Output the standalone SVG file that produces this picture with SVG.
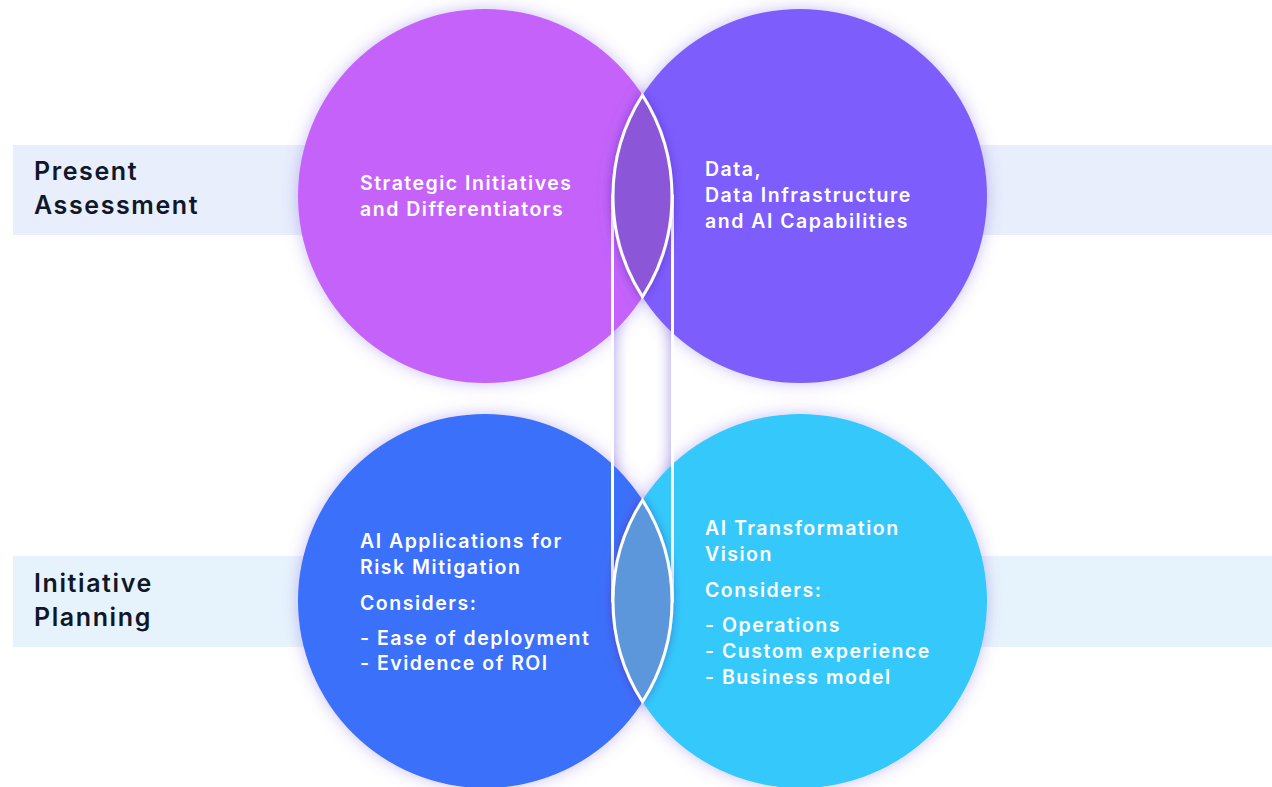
<svg xmlns="http://www.w3.org/2000/svg" width="1272" height="787" viewBox="0 0 1272 787">
  <style>
    .band-label { font-family: Inter, "Open Sans", "Liberation Sans", sans-serif; font-size: 25px; font-weight: 600; letter-spacing: 1.6px; fill: #0f1729; }
    .node-text { font-family: Inter, "Open Sans", "Liberation Sans", sans-serif; font-size: 19.5px; font-weight: 600; letter-spacing: 1.5px; fill: #ffffff; }
    .lens { stroke: #ffffff; stroke-width: 3; }
  </style>
  <defs>
    <filter id="glow" x="-20%" y="-20%" width="140%" height="140%">
      <feDropShadow dx="0" dy="0" stdDeviation="8" flood-color="#7a5fe0" flood-opacity="0.4"/>
    </filter>
    <filter id="lensShadow" x="-60%" y="-20%" width="220%" height="140%">
      <feDropShadow dx="0" dy="0" stdDeviation="5" flood-color="#3a1f9a" flood-opacity="0.35"/>
    </filter>
    <linearGradient id="linkShade" x1="0" y1="0" x2="1" y2="0">
      <stop offset="0" stop-color="#cfc6f2" stop-opacity="0.9"/>
      <stop offset="0.3" stop-color="#ffffff" stop-opacity="0"/>
      <stop offset="0.7" stop-color="#ffffff" stop-opacity="0"/>
      <stop offset="1" stop-color="#cfc6f2" stop-opacity="0.9"/>
    </linearGradient>
  </defs>

  <rect width="1272" height="787" fill="#ffffff"/>

  <!-- horizontal bands -->
  <g id="band-present">
    <rect x="13" y="145" width="1259" height="90" fill="#e8eefc"/>
    <text class="band-label" x="34" y="180">Present</text>
    <text class="band-label" x="34" y="214">Assessment</text>
  </g>
  <g id="band-planning">
    <rect x="13" y="556" width="1259" height="91" fill="#e7f3fc"/>
    <text class="band-label" x="34" y="592">Initiative</text>
    <text class="band-label" x="34" y="626">Planning</text>
  </g>

  <!-- soft inner shading of the link channel, visible between the circles -->
  <rect x="614" y="196" width="57" height="405" fill="url(#linkShade)"/>

  <!-- circles -->
  <g id="strategic-initiatives">
    <circle cx="485" cy="196" r="187" fill="#c462fa" filter="url(#glow)"/>
  </g>
  <g id="data-infrastructure">
    <circle cx="800" cy="196" r="187" fill="#7d5dfb" filter="url(#glow)"/>
  </g>
  <g id="ai-applications">
    <circle cx="485" cy="601" r="187" fill="#3a70fa" filter="url(#glow)"/>
  </g>
  <g id="ai-transformation">
    <circle cx="800" cy="601" r="187" fill="#36c9fb" filter="url(#glow)"/>
  </g>

  <!-- connectors: vertical link between the two overlaps -->
  <g id="connectors">
    <rect x="612.5" y="196" width="60" height="405" fill="none" stroke="#ffffff" stroke-width="3"/>
    <path class="lens" d="M642.5,95.2 A187,187 0 0,0 642.5,296.8 A187,187 0 0,0 642.5,95.2 Z" fill="#8b57d8" filter="url(#lensShadow)"/>
    <path class="lens" d="M642.5,500.2 A187,187 0 0,0 642.5,701.8 A187,187 0 0,0 642.5,500.2 Z" fill="#5b96db" filter="url(#lensShadow)"/>
  </g>

  <!-- circle labels -->
  <g id="label-strategic">
    <text class="node-text" x="360" y="190">Strategic Initiatives</text>
    <text class="node-text" x="360" y="216">and Differentiators</text>
  </g>
  <g id="label-data">
    <text class="node-text" x="705" y="176">Data,</text>
    <text class="node-text" x="705" y="202">Data Infrastructure</text>
    <text class="node-text" x="705" y="228">and AI Capabilities</text>
  </g>
  <g id="label-applications">
    <text class="node-text" x="360" y="548">AI Applications for</text>
    <text class="node-text" x="360" y="574">Risk Mitigation</text>
    <text class="node-text" x="360" y="610">Considers:</text>
    <text class="node-text" x="360" y="645">- Ease of deployment</text>
    <text class="node-text" x="360" y="670">- Evidence of ROI</text>
  </g>
  <g id="label-transformation">
    <text class="node-text" x="705" y="535">AI Transformation</text>
    <text class="node-text" x="705" y="561">Vision</text>
    <text class="node-text" x="705" y="597">Considers:</text>
    <text class="node-text" x="705" y="632">- Operations</text>
    <text class="node-text" x="705" y="658">- Custom experience</text>
    <text class="node-text" x="705" y="684">- Business model</text>
  </g>
</svg>
